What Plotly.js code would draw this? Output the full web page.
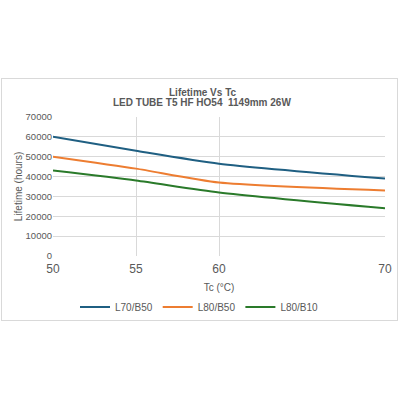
<!DOCTYPE html>
<html>
<head>
<meta charset="utf-8">
<script src="https://cdn.plot.ly/plotly-3.0.1.min.js"></script>
<style>
  body { margin: 0; background: #fff; }
  #box { position: absolute; left: 1px; top: 78px; width: 395px; height: 241px; border: 1px solid #d9d9d9; }
  #chart { width: 395px; height: 241px; }
</style>
</head>
<body>
<div id="box"><div id="chart"></div></div>
<script>
// temperatures (Tc, °C)
var tc = [50, 55, 60, 70];
var xTicks = [50, 55, 60, 70];

// lifetime in hours per series
var l70b50 = [60000, 53000, 46500, 39000];
var l80b50 = [50000, 44000, 37000, 33000];
var l80b10 = [43000, 38000, 32000, 24000];

var seriesNames = ['L70/B50', 'L80/B50', 'L80/B10'];
var seriesColors = ['#1f5f82', '#ed7d31', '#2a7a2a'];
var titleLines = ['Lifetime Vs Tc', 'LED TUBE T5 HF HO54  1149mm 26W'];

var traces = [l70b50, l80b50, l80b10].map(function (ys, i) {
  return {
    x: tc,
    y: ys,
    name: seriesNames[i],
    type: 'scatter',
    mode: 'lines',
    line: { color: seriesColors[i], width: 2, shape: 'spline', smoothing: 0.6 }
  };
});

var grey = '#595959';
var fnt = 'Liberation Sans, Arial, sans-serif';

var layout = {
  width: 395,
  height: 241,
  margin: { l: 51, r: 12, t: 38, b: 64 },
  paper_bgcolor: '#fff',
  plot_bgcolor: '#fff',
  font: { family: fnt, color: grey },
  xaxis: {
    range: [50, 70],
    tickvals: xTicks,
    ticktext: xTicks.map(String),
    tickfont: { size: 12, color: grey },
    ticklabelstandoff: 4,
    showgrid: true,
    gridcolor: '#d9d9d9',
    zeroline: false,
    showline: false,
    ticks: '',
    automargin: false,
    title: { text: 'Tc (°C)', font: { size: 10, color: grey } }
  },
  yaxis: {
    range: [0, 70000],
    dtick: 10000,
    tickformat: 'd',
    tickfont: { size: 9.5, color: grey },
    showgrid: true,
    gridcolor: '#d9d9d9',
    zeroline: false,
    showline: false,
    ticks: '',
    automargin: false,
    title: { text: 'Lifetime (hours)', font: { size: 10, color: grey } }
  },
  // two title lines drawn as annotations so the spacing can be set
  annotations: titleLines.map(function (t, i) {
    return {
      text: '<b>' + t + '</b>',
      xref: 'paper', yref: 'paper',
      x: 0.45, y: 1 + (25 - i * 11) / 139,
      xanchor: 'center', yanchor: 'middle',
      showarrow: false,
      font: { size: 10, color: grey, family: fnt }
    };
  }),
  legend: {
    orientation: 'h',
    xref: 'container', yref: 'container',
    x: 0.5, xanchor: 'center',
    y: 13 / 241, yanchor: 'middle',
    font: { size: 10, color: grey },
    itemwidth: 30,
    tracegroupgap: 0
  },
  showlegend: true
};

Plotly.newPlot('chart', traces, layout, { displayModeBar: false, staticPlot: true });
</script>
</body>
</html>
